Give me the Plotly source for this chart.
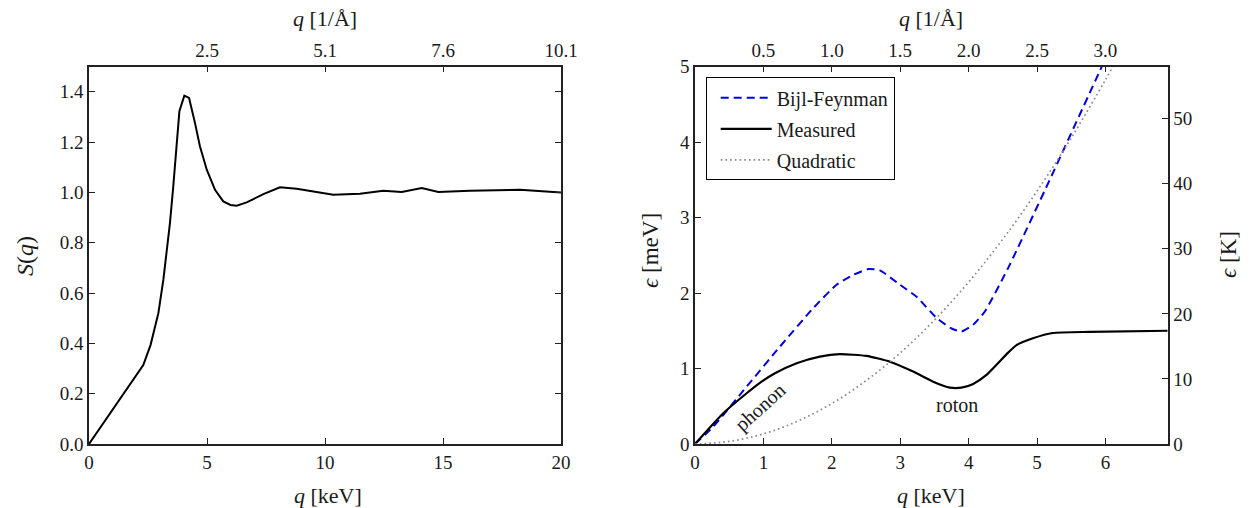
import plotly.graph_objects as go

# ---------------- data ----------------
# Left: static structure factor S(q), q in keV
sq_q = [0, 2.02, 2.30, 2.61, 2.94, 3.15, 3.32, 3.43, 3.57, 3.71, 3.83, 4.04, 4.24,
        4.49, 4.70, 4.99, 5.34, 5.69, 6.00, 6.26, 6.68, 7.39, 8.09, 8.80, 9.50,
        9.79, 10.35, 11.48, 12.47, 13.25, 14.10, 14.80, 16.14, 18.26, 20.0]
sq_s = [0, 0.274, 0.314, 0.394, 0.52, 0.652, 0.785, 0.878, 1.023, 1.196, 1.322, 1.384, 1.375,
        1.276, 1.183, 1.090, 1.010, 0.964, 0.950, 0.947, 0.960, 0.993, 1.020, 1.014, 1.004,
        0.997, 0.990, 0.994, 1.006, 1.001, 1.017, 1.001, 1.006, 1.010, 0.999]

# Right: dispersion curves, q in keV, energy in meV
meas_q = [0, 0.413, 0.755, 0.974, 1.169, 1.486, 1.826, 2.118, 2.508, 2.849, 3.189, 3.481,
          3.725, 3.896, 4.066, 4.261, 4.577, 4.70, 4.94, 5.23, 5.77, 6.91]
meas_e = [0, 0.407, 0.672, 0.826, 0.937, 1.07, 1.158, 1.19, 1.167, 1.09, 0.959, 0.826,
          0.747, 0.747, 0.796, 0.915, 1.21, 1.31, 1.40, 1.47, 1.485, 1.50]

bf_q = [0, 0.267, 0.755, 1.242, 1.728, 2.07, 2.313, 2.532, 2.703, 2.995, 3.239, 3.531,
        3.750, 3.896, 4.066, 4.237, 4.577, 5.186, 5.917, 6.05]
bf_e = [0, 0.23, 0.76, 1.29, 1.80, 2.11, 2.24, 2.317, 2.30, 2.11, 1.95, 1.67,
        1.53, 1.49, 1.58, 1.755, 2.33, 3.50, 4.94, 5.20]

quad_q = [0, 0.5, 1.0, 1.5, 2.0, 2.5, 3.0, 3.5, 4.0, 4.5, 5.0, 5.5, 6.0, 6.2]
quad_e = [0, 0.034, 0.134, 0.302, 0.536, 0.838, 1.206, 1.642, 2.144, 2.714, 3.35, 4.054, 4.824, 5.15]

# tick labels
left_x_ticks = [0, 5, 10, 15, 20]
left_top_labels = ["2.5", "5.1", "7.6", "10.1"]
left_y_ticks = [0.0, 0.2, 0.4, 0.6, 0.8, 1.0, 1.2, 1.4]
right_x_ticks = [0, 1, 2, 3, 4, 5, 6]
right_top_labels = ["0.5", "1.0", "1.5", "2.0", "2.5", "3.0"]
right_y_ticks = [0, 1, 2, 3, 4, 5]
right_k_ticks = [0, 10, 20, 30, 40, 50]
MEV_TO_K = 11.6045

W, H = 1250, 508
FONT = "'Liberation Serif', 'Times New Roman', serif"
AX = "#222222"
TXT = "#1a1a1a"


def px(x):
    return x / W


def py(y):
    return 1 - y / H


fig = go.Figure()
fig.add_trace(go.Scatter(x=sq_q, y=sq_s, mode="lines", line=dict(color="black", width=2),
                         showlegend=False, xaxis="x", yaxis="y"))
fig.add_trace(go.Scatter(x=bf_q, y=bf_e, mode="lines", name="Bijl-Feynman", legendgroup="a",
                         line=dict(color="#0000dd", width=2, dash="8px,5px", shape="spline", smoothing=0.5),
                         xaxis="x3", yaxis="y3"))
fig.add_trace(go.Scatter(x=meas_q, y=meas_e, mode="lines", name="Measured", legendgroup="b",
                         line=dict(color="black", width=2.2, shape="spline", smoothing=0.5),
                         xaxis="x3", yaxis="y3"))
fig.add_trace(go.Scatter(x=quad_q, y=quad_e, mode="lines", name="Quadratic", legendgroup="c",
                         line=dict(color="#8c8c8c", width=1.7, dash="1.7px,3px", shape="spline"),
                         xaxis="x3", yaxis="y3"))
# placeholders so that the secondary axes are drawn
for xa, ya in (("x2", "y"), ("x4", "y3"), ("x3", "y4")):
    fig.add_trace(go.Scatter(x=[None], y=[None], mode="lines", showlegend=False,
                             hoverinfo="skip", xaxis=xa, yaxis=ya))

left_dom = [px(89), px(561)]
right_dom = [px(695), px(1167.7)]
ydom = [py(444), py(66.5)]

tickfont = dict(family=FONT, size=19, color=TXT)
common = dict(showgrid=False, zeroline=False, showline=True, linecolor=AX, linewidth=1.5,
              ticks="inside", ticklen=6, tickwidth=1.2, tickcolor=AX, tickfont=tickfont,
              automargin=False)

fig.update_layout(
    template="none",
    width=W, height=H,
    margin=dict(l=0, r=0, t=0, b=0, autoexpand=False),
    paper_bgcolor="white", plot_bgcolor="white",
    font=dict(family=FONT, size=19, color=TXT),
    xaxis=dict(domain=left_dom, range=[0, 20], tickvals=left_x_ticks, anchor="y", mirror=True, **common),
    yaxis=dict(domain=ydom, range=[0, 1.5], tickvals=left_y_ticks, tickformat=".1f",
               anchor="x", mirror="ticks", **common),
    xaxis2=dict(overlaying="x", side="top", anchor="y", range=[0, 20],
                tickvals=left_x_ticks[1:], ticktext=left_top_labels, **common),
    xaxis3=dict(domain=right_dom, range=[0, 6.91], tickvals=right_x_ticks, anchor="y3", mirror=True, **common),
    yaxis3=dict(domain=ydom, range=[0, 5], tickvals=right_y_ticks, anchor="x3", **common),
    xaxis4=dict(overlaying="x3", side="top", anchor="y3", range=[0, 6.91],
                tickvals=right_x_ticks[1:], ticktext=right_top_labels, **common),
    yaxis4=dict(overlaying="y3", side="right", anchor="x3", range=[0, 5 * MEV_TO_K],
                tickvals=right_k_ticks, **common),
    legend=dict(x=px(705.7), y=py(77.3), xanchor="left", yanchor="top",
                bordercolor="black", borderwidth=1, bgcolor="white",
                font=dict(family=FONT, size=20, color=TXT), itemwidth=51, indentation=9,
                tracegroupgap=2),
)

ann = [
    dict(text="<i>S</i>(<i>q</i>)", x=px(25), y=py(256), textangle=-90, size=24),
    dict(text="<i>q</i> [keV]", x=px(328), y=py(495), size=22),
    dict(text="<i>q</i> [1/Å]", x=px(325), y=py(18), size=22),
    dict(text="<i>q</i> [keV]", x=px(931), y=py(495), size=22),
    dict(text="<i>q</i> [1/Å]", x=px(931), y=py(18), size=22),
    dict(text="<i>ϵ</i> [meV]", x=px(650), y=py(251), textangle=-90, size=23),
    dict(text="<i>ϵ</i> [K]", x=px(1228), y=py(255), textangle=-90, size=23),
]
for a in ann:
    sz = a.pop("size")
    fig.add_annotation(xref="paper", yref="paper", showarrow=False,
                       font=dict(family=FONT, size=sz, color=TXT),
                       xanchor="center", yanchor="middle", **a)

fig.add_annotation(xref="x3", yref="y3", x=0.95, y=0.49, text="phonon", textangle=-42,
                   showarrow=False, font=dict(family=FONT, size=20, color=TXT))
fig.add_annotation(xref="x3", yref="y3", x=3.83, y=0.52, text="roton",
                   showarrow=False, font=dict(family=FONT, size=20, color=TXT))

fig.write_html("out.html", config={"displayModeBar": False},
               post_script="document.body.style.margin='0px';document.body.style.overflow='hidden';")
